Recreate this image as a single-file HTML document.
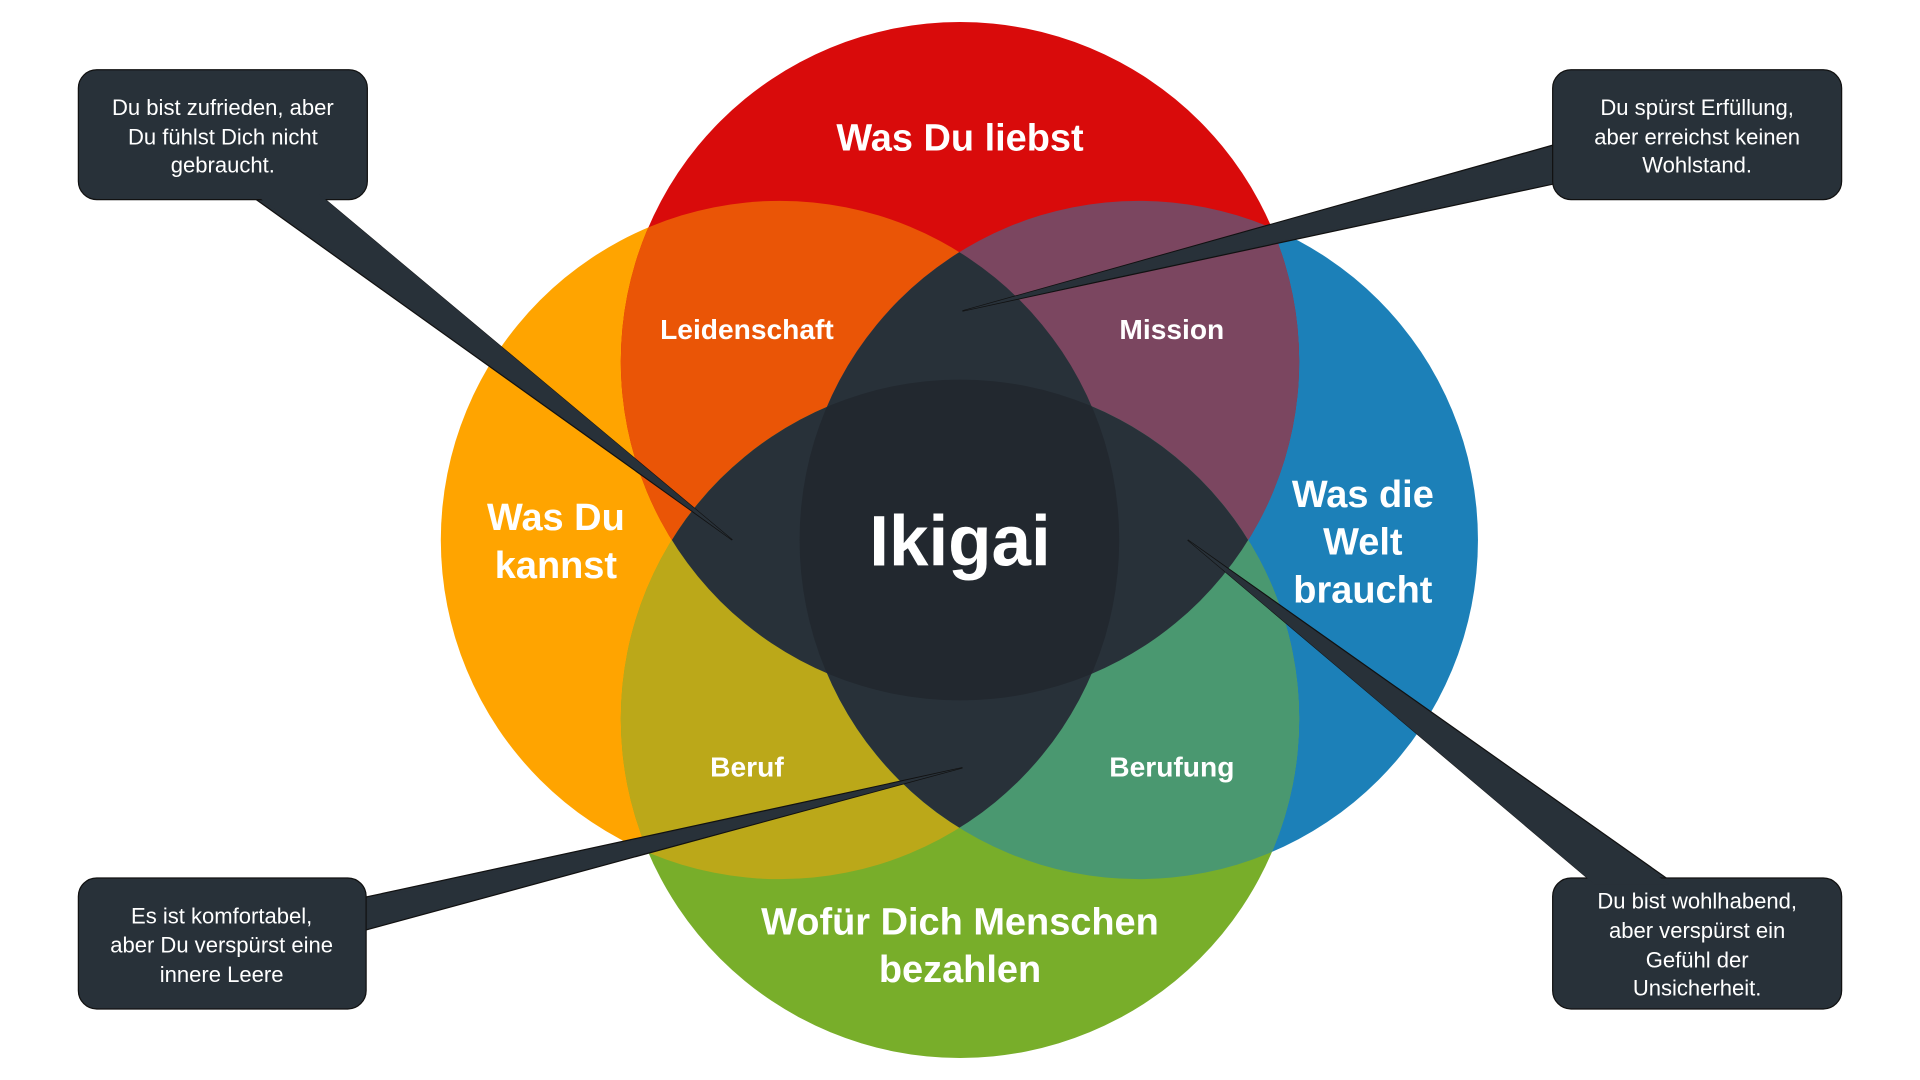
<!DOCTYPE html>
<html><head><meta charset="utf-8"><style>
html,body{margin:0;padding:0;background:#fff;width:1920px;height:1080px;overflow:hidden}
svg{display:block}
text{font-family:"Liberation Sans","DejaVu Sans",sans-serif;fill:#fff;text-anchor:middle}
.b{font-weight:bold}
.c{font-size:18px}
</style></head><body>
<svg width="1920" height="1080" viewBox="0 0 1568 882" preserveAspectRatio="none" xmlns="http://www.w3.org/2000/svg">
<defs>
<clipPath id="cT"><circle cx="784" cy="295" r="277"/></clipPath>
<clipPath id="cB"><circle cx="784" cy="587" r="277"/></clipPath>
<clipPath id="cL"><circle cx="637" cy="441" r="277"/></clipPath>
<clipPath id="cR"><circle cx="930" cy="441" r="277"/></clipPath>
</defs>
<circle cx="637" cy="441" r="277" fill="#FFA400"/>
<circle cx="930" cy="441" r="277" fill="#1C80B8"/>
<circle cx="784" cy="295" r="277" fill="#D90B0B"/>
<circle cx="784" cy="587" r="277" fill="#78AE2A"/>
<g clip-path="url(#cT)"><circle cx="637" cy="441" r="277" fill="#EA5506"/><circle cx="930" cy="441" r="277" fill="#7B4660"/></g>
<g clip-path="url(#cB)"><circle cx="637" cy="441" r="277" fill="#BBA819"/><circle cx="930" cy="441" r="277" fill="#4A9870"/></g>
<g clip-path="url(#cT)"><circle cx="784" cy="587" r="277" fill="#283139"/></g>
<g clip-path="url(#cL)"><circle cx="930" cy="441" r="277" fill="#283139"/></g>
<g clip-path="url(#cT)"><g clip-path="url(#cB)"><g clip-path="url(#cL)"><circle cx="930" cy="441" r="277" fill="#22282F"/></g></g></g>

<g fill="#283139" stroke="#111" stroke-width="1">
<polygon points="205,160 262,160 598,441"/>
<polygon points="1270,118 1270,150 786,254"/>
<polygon points="297,733 297,760 786,627"/>
<polygon points="1300,720 1365,720 970,441"/>
<rect x="64" y="57" width="236" height="106" rx="15"/>
<rect x="1268" y="57" width="236" height="106" rx="15"/>
<rect x="64" y="717" width="235" height="107" rx="15"/>
<rect x="1268" y="717" width="236" height="107" rx="15"/>
</g>
<g fill="#283139">
<polygon points="207,158 260,158 598,441"/>
<polygon points="1266,120 1266,148 786,254"/>
<polygon points="300,735 300,758 786,627"/>
<polygon points="1302,722 1363,722 970,441"/>
</g>

<text class="c" x="182" y="94">Du bist zufrieden, aber</text>
<text class="c" x="182" y="118">Du fühlst Dich nicht</text>
<text class="c" x="182" y="141">gebraucht.</text>
<text class="c" x="1386" y="94">Du spürst Erfüllung,</text>
<text class="c" x="1386" y="118">aber erreichst keinen</text>
<text class="c" x="1386" y="141">Wohlstand.</text>
<text class="c" x="181" y="754">Es ist komfortabel,</text>
<text class="c" x="181" y="778">aber Du verspürst eine</text>
<text class="c" x="181" y="802">innere Leere</text>
<text class="c" x="1386" y="742">Du bist wohlhabend,</text>
<text class="c" x="1386" y="766">aber verspürst ein</text>
<text class="c" x="1386" y="790">Gefühl der</text>
<text class="c" x="1386" y="813">Unsicherheit.</text>

<text class="b" x="784" y="123" font-size="31">Was Du liebst</text>
<text class="b" x="610" y="277" font-size="23">Leidenschaft</text>
<text class="b" x="957" y="277" font-size="23">Mission</text>
<text class="b" x="454" y="433" font-size="31">Was Du</text>
<text class="b" x="454" y="472" font-size="31">kannst</text>
<text class="b" x="784" y="462" font-size="58">Ikigai</text>
<text class="b" x="1113" y="414" font-size="31">Was die</text>
<text class="b" x="1113" y="453" font-size="31">Welt</text>
<text class="b" x="1113" y="492" font-size="31">braucht</text>
<text class="b" x="610" y="634" font-size="23">Beruf</text>
<text class="b" x="957" y="634" font-size="23">Berufung</text>
<text class="b" x="784" y="763" font-size="31">Wofür Dich Menschen</text>
<text class="b" x="784" y="802" font-size="31">bezahlen</text>
</svg>
</body></html>
